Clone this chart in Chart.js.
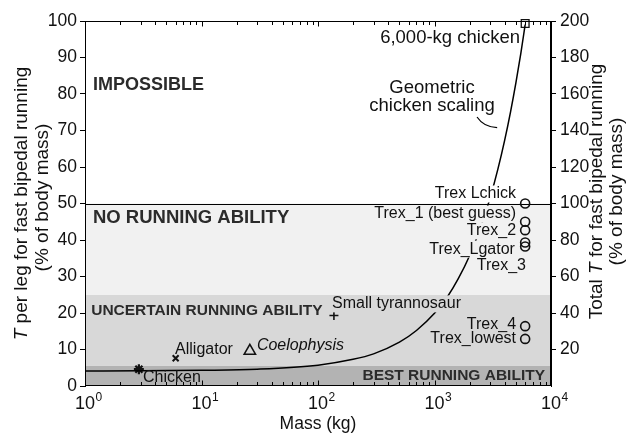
<!DOCTYPE html>
<html><head><meta charset="utf-8">
<script src="https://cdn.jsdelivr.net/npm/chart.js@4/dist/chart.umd.min.js"></script>
<style>html,body{margin:0;padding:0;background:#fff}</style>
</head><body>
<canvas id="c" width="632" height="434"></canvas>
<script>
// ---- data ----
const curveMass = [1, 3, 10, 30, 100, 200, 300, 500, 700, 1000, 1300, 1600, 2000, 2500, 3000, 3500, 4000, 4500, 5000, 5500, 6000];
const curveT    = [4.1, 4.15, 4.3, 4.6, 5.7, 7.3, 8.8, 12.0, 15.2, 19.9, 24.6, 29.4, 35.7, 43.6, 51.5, 59.4, 67.3, 75.2, 83.1, 91.0, 99.0];

const animalNames = ['Chicken', 'Alligator', 'Coelophysis', 'Small tyrannosaur'];
const animalMass  = [2.9, 6, 26, 137];
const animalT     = [4.6, 7.6, 9.6, 19.3];

const trexNames = ['Trex Lchick', 'Trex_1 (best guess)', 'Trex_2', 'Trex_Lgator', 'Trex_3', 'Trex_4', 'Trex_lowest'];
const trexMass  = [6000, 6000, 6000, 6000, 6000, 6000, 6000];
const trexT     = [50, 45.0, 42.7, 39.3, 38.2, 16.4, 12.9];

const bigChickenMass = [6000];
const bigChickenT    = [99.3];

const bandEdges  = [0, 5.5, 25, 50];
const bandColors = ['#b3b3b3', '#d8d8d8', '#f1f1f1'];

const leftTicks  = [0, 10, 20, 30, 40, 50, 60, 70, 80, 90, 100];
const rightTicks = [20, 40, 60, 80, 100, 120, 140, 160, 180, 200];
const xTickExps  = [0, 1, 2, 3, 4];

const FONT = '"Liberation Sans", Arial, Helvetica, sans-serif';

// text labels: [text, mass, T, align, style, maskBehind]
const textLabels = [
  ['IMPOSSIBLE', 1.17, 82.5, 'left', 'bold 18px', false],
  ['NO RUNNING ABILITY', 1.17, 46, 'left', 'bold 18.5px', false],
  ['UNCERTAIN RUNNING ABILITY', 1.13, 20.5, 'left', 'bold 15.5px', false],
  ['BEST RUNNING ABILITY', 8880, 2.7, 'right', 'bold 15.5px', false],
  ['6,000-kg chicken', 5420, 95.3, 'right', '18.5px', false],
  ['Geometric', 952, 81.6, 'center', '18.5px', false],
  ['chicken scaling', 952, 76.7, 'center', '18.5px', false],
  ['Trex Lchick', 5010, 52.6, 'right', '16px', true],
  ['Trex_1 (best guess)', 5010, 47.1, 'right', '16px', true],
  ['Trex_2', 5010, 42.5, 'right', '16px', true],
  ['Trex_Lgator', 4900, 37.5, 'right', '16px', true],
  ['Trex_3', 6100, 32.9, 'right', '16px', true],
  ['Small tyrannosaur', 132, 22.5, 'left', '16px', true],
  ['Trex_4', 5010, 16.7, 'right', '16px', false],
  ['Trex_lowest', 5010, 12.9, 'right', '16px', false],
  ['Alligator', 5.93, 10.1, 'left', '16px', false],
  ['Coelophysis', 29.9, 11.2, 'left', 'italic 16px', false],
  ['Chicken', 3.15, 2.2, 'left', '16px', false]
];
// leader line: [m0,t0, mc,tc, m1,t1]
const leaders = [
  [2317, 73.7, 2650, 70.9, 3450, 70.8]
];

function bandColorAt(v) {
  for (let i = 0; i < bandColors.length; i++) if (v >= bandEdges[i] && v < (bandEdges[i + 1] ?? 1e9)) return bandColors[i];
  return '#ffffff';
}

const decor = {
  id: 'decor',
  beforeDatasetsDraw(chart) {
    const {ctx, chartArea: a, scales: {x, y}} = chart;
    ctx.save();
    for (let i = 0; i < bandColors.length; i++) {
      const yt = y.getPixelForValue(bandEdges[i + 1]);
      const yb = y.getPixelForValue(bandEdges[i]);
      ctx.fillStyle = bandColors[i];
      ctx.fillRect(a.left, yt, a.right - a.left, yb - yt);
    }
    const y50 = Math.round(y.getPixelForValue(50)) + 0.5;
    ctx.strokeStyle = '#000'; ctx.lineWidth = 1;
    ctx.beginPath(); ctx.moveTo(a.left, y50); ctx.lineTo(a.right, y50); ctx.stroke();
    ctx.restore();
  },
  afterDatasetsDraw(chart) {
    const {ctx, scales: {x, y}} = chart;
    ctx.save();
    ctx.textBaseline = 'middle';
    textLabels.forEach(([t, m, v, al, st, mask]) => {
      ctx.font = st + ' ' + FONT;
      ctx.textAlign = al;
      const px = x.getPixelForValue(m), py = y.getPixelForValue(v);
      if (mask) {
        const w = ctx.measureText(t).width;
        const x0 = al === 'right' ? px - w : (al === 'center' ? px - w / 2 : px);
        ctx.fillStyle = bandColorAt(v);
        ctx.fillRect(x0 - 2, py - 8.5, w + 4, 17);
      }
      ctx.fillStyle = st.indexOf('bold') >= 0 ? '#2b2b2b' : '#111';
      ctx.fillText(t, px, py);
    });
    ctx.strokeStyle = '#000'; ctx.lineWidth = 1.2;
    leaders.forEach(l => {
      ctx.beginPath();
      ctx.moveTo(x.getPixelForValue(l[0]), y.getPixelForValue(l[1]));
      ctx.quadraticCurveTo(x.getPixelForValue(l[2]), y.getPixelForValue(l[3]), x.getPixelForValue(l[4]), y.getPixelForValue(l[5]));
      ctx.stroke();
    });
    ctx.restore();
  },
  afterDraw(chart) {
    const {ctx, chartArea: a, scales: {x, y}} = chart;
    ctx.save();
    ctx.strokeStyle = '#000'; ctx.lineWidth = 1;
    const L = Math.round(a.left) + 0.5, R = Math.round(a.right) - 0.5;
    const T = Math.round(a.top) + 0.5, B = Math.round(a.bottom) - 0.5;
    ctx.strokeRect(L, T, R - L, B - T);
    // minor ticks inward on top and bottom
    ctx.beginPath();
    for (let d = 0; d < 4; d++) {
      for (let k = 1; k <= 9; k++) {
        if (k === 1 && d === 0) continue;
        const px = Math.round(x.getPixelForValue(k * Math.pow(10, d))) + 0.5;
        const len = k === 1 ? 5 : 3.5;
        ctx.moveTo(px, B); ctx.lineTo(px, B - len);
        ctx.moveTo(px, T); ctx.lineTo(px, T + len);
      }
    }
    ctx.stroke();
    // x tick labels 10^n
    ctx.fillStyle = '#111';
    ctx.textBaseline = 'alphabetic';
    xTickExps.forEach(e => {
      const px = x.getPixelForValue(Math.pow(10, e));
      ctx.font = '18px ' + FONT;
      ctx.textAlign = 'center';
      ctx.fillText('10', px, B + 23);
      const w = ctx.measureText('10').width;
      ctx.font = '12px ' + FONT;
      ctx.textAlign = 'left';
      ctx.fillText(String(e), px + w / 2 + 0.5, B + 15);
    });
    // x title
    ctx.font = '17.5px ' + FONT;
    ctx.textAlign = 'center';
    ctx.fillText('Mass (kg)', (a.left + a.right) / 2, B + 43);
    // rotated titles
    const drawRot = (cx, cy, segs) => {
      ctx.save();
      ctx.translate(cx, cy);
      ctx.rotate(-Math.PI / 2);
      ctx.textBaseline = 'middle';
      ctx.textAlign = 'left';
      let w = 0;
      segs.forEach(s => { ctx.font = (s[1] ? 'italic ' : '') + '19px ' + FONT; w += ctx.measureText(s[0]).width; });
      let xx = -w / 2;
      segs.forEach(s => { ctx.font = (s[1] ? 'italic ' : '') + '19px ' + FONT; ctx.fillText(s[0], xx, 0); xx += ctx.measureText(s[0]).width; });
      ctx.restore();
    };
    const cy = (a.top + a.bottom) / 2;
    drawRot(22, cy, [['T', true], [' per leg for fast bipedal running', false]]);
    drawRot(43, cy - 6, [['(% of body mass)', false]]);
    drawRot(597, cy - 12, [['Total ', false], ['T', true], [' for fast bipedal running', false]]);
    drawRot(617, cy - 12, [['(% of body mass)', false]]);
    ctx.restore();
  }
};

const pts = (ms, ts) => ms.map((m, i) => ({x: m, y: ts[i]}));
const none = 'rgba(0,0,0,0)';

new Chart(document.getElementById('c'), {
  type: 'scatter',
  data: {
    datasets: [
      {label: 'Geometric chicken scaling', data: pts(curveMass, curveT), showLine: true, borderColor: '#000', borderWidth: 1.5, pointRadius: 0, cubicInterpolationMode: 'monotone', clip: false},
      {label: animalNames[0], data: [{x: animalMass[0], y: animalT[0]}], pointStyle: 'star', pointRadius: 5, borderWidth: 2.2, borderColor: '#111', backgroundColor: none},
      {label: animalNames[1], data: [{x: animalMass[1], y: animalT[1]}], pointStyle: 'crossRot', pointRadius: 4.2, borderWidth: 2, borderColor: '#111', backgroundColor: none},
      {label: animalNames[2], data: [{x: animalMass[2], y: animalT[2]}], pointStyle: 'triangle', pointRadius: 6.5, borderWidth: 1.6, borderColor: '#111', backgroundColor: none},
      {label: animalNames[3], data: [{x: animalMass[3], y: animalT[3]}], pointStyle: 'cross', pointRadius: 4.5, borderWidth: 1.6, borderColor: '#111', backgroundColor: none},
      {label: 'Trex', data: pts(trexMass, trexT), pointStyle: 'circle', pointRadius: 4.5, borderWidth: 1.6, borderColor: '#111', backgroundColor: none},
      {label: '6,000-kg chicken', data: pts(bigChickenMass, bigChickenT), pointStyle: 'rect', pointRadius: 5.5, borderWidth: 1.3, borderColor: '#111', backgroundColor: none, clip: false}
    ]
  },
  options: {
    responsive: false, animation: false, devicePixelRatio: 1,
    layout: {padding: {top: 21, left: 0, right: 0, bottom: 0}},
    plugins: {legend: {display: false}, tooltip: {enabled: false}},
    scales: {
      x: {type: 'logarithmic', min: 1, max: 10000, ticks: {display: false}, grid: {display: false}, border: {display: false},
          afterFit(s) { s.height = 48; }},
      y: {position: 'left', min: 0, max: 100,
          afterBuildTicks(s) { s.ticks = leftTicks.map(v => ({value: v})); },
          ticks: {font: {family: FONT, size: 17.5}, color: '#111', padding: 3, autoSkip: false},
          grid: {drawOnChartArea: false, drawTicks: true, tickLength: 5, color: '#000', lineWidth: 1},
          border: {display: true, color: '#000', width: 1},
          afterFit(s) { s.width = 85; }},
      y2: {position: 'right', min: 0, max: 200,
          afterBuildTicks(s) { s.ticks = rightTicks.map(v => ({value: v})); },
          ticks: {font: {family: FONT, size: 17.5}, color: '#111', padding: 4, autoSkip: false},
          grid: {drawOnChartArea: false, drawTicks: true, tickLength: 5, color: '#000', lineWidth: 1},
          border: {display: true, color: '#000', width: 1},
          afterFit(s) { s.width = 81; }}
    }
  },
  plugins: [decor]
});
</script>
</body></html>
